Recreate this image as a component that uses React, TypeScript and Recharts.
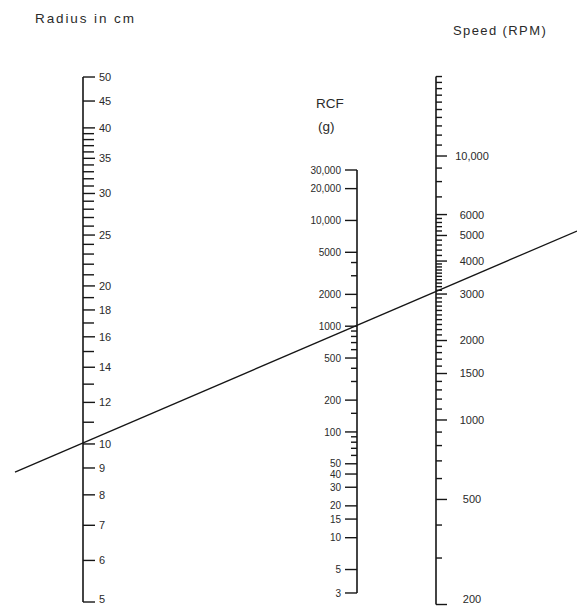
import React from 'react';
import { ComposedChart, XAxis, YAxis, Scatter, Line } from 'recharts';

// column positions of the three scales (x axis runs 0..577)
const RADIUS_X = 83;
const RCF_X = 357;
const RPM_X = 436;

const radiusMajor = [50, 45, 40, 35, 30, 25, 20, 18, 16, 14, 12, 10, 9, 8, 7, 6, 5];
const radiusMinor = [39, 38, 37, 36, 34, 33, 32, 31, 29, 28, 27, 26, 24, 23, 22, 21, 19, 17, 15, 13, 11];

const rcfMajor = [30000, 20000, 10000, 5000, 2000, 1000, 500, 200, 100, 50, 40, 30, 20, 15, 10, 5, 3];
const rcfMinor = [4000, 3000, 1500, 900, 800, 700, 600, 400, 300, 150, 90, 80, 70, 60];

const rpmMajor = [10000, 6000, 5000, 4000, 3000, 2000, 1500, 1000, 500, 200];
const rpmMinor = [
  20000, 19000, 18000, 17000, 16000, 15000, 14000, 13000, 12000, 11000,
  9000, 8000, 7000,
  5800, 5600, 5400, 5200,
  4800, 4600, 4400, 4200,
  3900, 3800, 3700, 3600, 3500, 3400, 3300, 3200, 3100,
  2900, 2800, 2700, 2600, 2500, 2400, 2300, 2200, 2100,
  1900, 1800, 1700, 1600,
  1400, 1300, 1200, 1100,
  900, 800, 700, 600,
  400, 300,
];

// the example reading: 10 cm at about 3000 rpm, extended to the edges (radius-scale units)
const keyLine = [
  { pos: 15, r: 8.84 },
  { pos: 577, r: 25.45 },
];

const fmt = (v: number) => (v >= 10000 ? v.toLocaleString('en-US') : String(v));

const INK = '#161616';
const TEXT = '#2a2a2a';
const FONT = '"Liberation Sans", Arial, sans-serif';

const tickShape = (dir: number, len: number, labelDx: number | null, anchor: string, size = 11) => (props: any) => {
  const { cx, cy, payload } = props;
  const v = payload.value;
  // keep the bottom label inside the picture
  const ty = Math.min(cy, 599);
  return (
    <g>
      <line x1={cx} y1={cy} x2={cx + dir * len} y2={cy} stroke={INK} strokeWidth={1.4} />
      {labelDx !== null && (
        <text
          x={cx + labelDx}
          y={ty}
          dy={size * 0.36}
          textAnchor={anchor as any}
          fontSize={size}
          fontFamily={FONT}
          fill={TEXT}
        >
          {fmt(v)}
        </text>
      )}
    </g>
  );
};

const pts = (vals: number[], pos: number, key: string) => vals.map((v) => ({ pos, [key]: v, value: v }));

export default function App() {
  return (
    <div style={{ position: 'absolute', left: 0, top: 0, background: '#fff' }}>
      <ComposedChart width={577} height={607} margin={{ top: 0, right: 0, bottom: 0, left: 0 }}>
        <XAxis type="number" dataKey="pos" domain={[0, 577]} allowDataOverflow hide />
        <YAxis yAxisId="r" dataKey="r" type="number" scale="log" domain={[4.8916, 70.09]} allowDataOverflow hide />
        <YAxis yAxisId="g" dataKey="g" type="number" scale="log" domain={[2.211, 1215400]} allowDataOverflow hide />
        <YAxis yAxisId="n" dataKey="n" type="number" scale="log" domain={[195.7, 38990]} allowDataOverflow hide />

        {/* spines */}
        <Line yAxisId="r" data={pts([5, 50], RADIUS_X, 'r')} dataKey="r" stroke={INK} strokeWidth={1.6} dot={false} activeDot={false} isAnimationActive={false} />
        <Line yAxisId="g" data={pts([3, 30000], RCF_X, 'g')} dataKey="g" stroke={INK} strokeWidth={1.6} dot={false} activeDot={false} isAnimationActive={false} />
        <Line yAxisId="n" data={pts([200, 20000], RPM_X, 'n')} dataKey="n" stroke={INK} strokeWidth={1.6} dot={false} activeDot={false} isAnimationActive={false} />

        {/* radius scale */}
        <Scatter yAxisId="r" data={pts(radiusMajor, RADIUS_X, 'r')} shape={tickShape(1, 12, 16, 'start')} isAnimationActive={false} />
        <Scatter yAxisId="r" data={pts(radiusMinor, RADIUS_X, 'r')} shape={tickShape(1, 11, null, 'start')} isAnimationActive={false} />

        {/* RCF scale */}
        <Scatter yAxisId="g" data={pts(rcfMajor, RCF_X, 'g')} shape={tickShape(-1, 12, -16, 'end', 10)} isAnimationActive={false} />
        <Scatter yAxisId="g" data={pts(rcfMinor, RCF_X, 'g')} shape={tickShape(-1, 6, null, 'end')} isAnimationActive={false} />

        {/* RPM scale */}
        <Scatter yAxisId="n" data={pts(rpmMajor, RPM_X, 'n')} shape={tickShape(1, 11, 36, 'middle')} isAnimationActive={false} />
        <Scatter yAxisId="n" data={pts(rpmMinor, RPM_X, 'n')} shape={tickShape(1, 6, null, 'start')} isAnimationActive={false} />

        {/* reading line */}
        <Line yAxisId="r" data={keyLine} dataKey="r" stroke={INK} strokeWidth={1.3} dot={false} activeDot={false} isAnimationActive={false} />

        <text x={35} y={23} fontSize={13.5} letterSpacing={1.9} fontFamily={FONT} fill={TEXT}>Radius in cm</text>
        <text x={453} y={35} fontSize={13} letterSpacing={1.4} fontFamily={FONT} fill={TEXT}>Speed (RPM)</text>
        <text x={316} y={108} fontSize={13.5} fontFamily={FONT} fill={TEXT}>RCF</text>
        <text x={318} y={131} fontSize={13.5} fontFamily={FONT} fill={TEXT}>(g)</text>
      </ComposedChart>
    </div>
  );
}
